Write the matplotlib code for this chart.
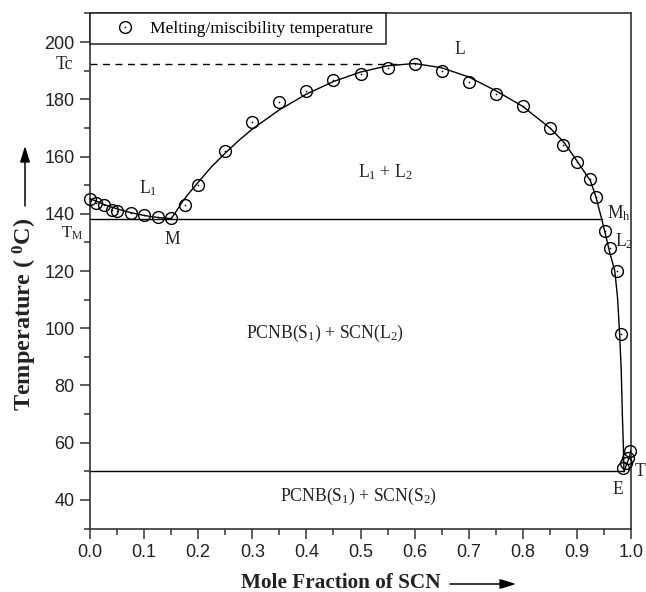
import matplotlib
matplotlib.use("Agg")
import matplotlib.pyplot as plt
from matplotlib.ticker import MultipleLocator

plt.rcParams['mathtext.default'] = 'regular'
SERIF = 'Liberation Serif'
SANS = 'Liberation Sans'

# measured melting / miscibility temperatures
x_pts = [0.0, 0.012, 0.025, 0.04, 0.05, 0.075, 0.1, 0.125, 0.15,
         0.175, 0.2, 0.25, 0.3, 0.35, 0.4, 0.45, 0.5, 0.55, 0.6,
         0.65, 0.7, 0.75, 0.8, 0.85, 0.875, 0.9, 0.925, 0.935,
         0.952, 0.961, 0.975, 0.981, 0.986, 0.991, 0.995, 0.999]
t_pts = [145.2, 143.6, 143.0, 141.4, 141.0, 140.4, 139.6, 138.8, 138.4,
         143.0, 150.0, 162.0, 172.0, 179.0, 183.0, 186.8, 189.0, 190.8, 192.2,
         190.0, 186.0, 182.0, 177.8, 169.8, 164.0, 158.0, 152.0, 146.0,
         134.0, 128.0, 120.0, 98.0, 51.0, 52.8, 54.5, 57.0]

# fitted liquidus / miscibility curve
x_left = [0.0, 0.025, 0.05, 0.075, 0.1, 0.125, 0.15]
t_left = [145.3, 143.3, 141.7, 140.4, 139.4, 138.7, 138.3]
x_dome = [0.15, 0.16, 0.17, 0.18, 0.2, 0.225, 0.25, 0.275, 0.3, 0.35, 0.4,
          0.45, 0.5, 0.55, 0.6, 0.65, 0.7, 0.75, 0.8, 0.85, 0.875, 0.9,
          0.925, 0.935, 0.946, 0.952, 0.96, 0.97, 0.975, 0.979, 0.982,
          0.984, 0.986, 0.987]
t_dome = [138.3, 141.0, 144.0, 146.5, 151.0, 156.5, 161.2, 165.6, 169.6,
          176.3, 181.8, 186.2, 189.5, 191.7, 192.5, 191.0, 187.8, 183.0,
          177.5, 170.0, 165.2, 158.5, 151.5, 146.0, 138.0, 133.5, 127.0,
          120.0, 111.0, 98.0, 85.0, 70.0, 58.0, 50.0]
x_et = [0.987, 0.992, 0.996, 1.0]
t_et = [50.0, 52.5, 54.5, 57.0]

T_c = 192.2
T_m = 138.0
T_e = 50.0
x_tc_end = 0.575
x_mh = 0.946
x_e = 0.987

fig = plt.figure(figsize=(6.46, 5.92), dpi=100)
ax = fig.add_axes([90/646, 1-528.6/592, 541/646, 515.2/592])

ax.plot(x_left, t_left, color='black', lw=1.0)
ax.plot(x_dome, t_dome, color='black', lw=1.0)
ax.plot(x_et, t_et, color='black', lw=1.0)
ax.plot([0, x_tc_end], [T_c, T_c], color='black', lw=1.0, ls=(0, (5, 4)))
ax.plot([0, x_mh], [T_m, T_m], color='black', lw=1.0)
ax.plot([0, x_e], [T_e, T_e], color='black', lw=1.0)

h1, = ax.plot(x_pts, t_pts, ls='none', marker='o', ms=8.5, mfc='none',
              mec='black', mew=1.0, clip_on=False, zorder=3)
h2, = ax.plot(x_pts, t_pts, ls='none', marker='o', ms=1.2, mfc='black',
              mec='black', mew=0, clip_on=False, zorder=3)

ax.set_xlim(0, 1.0)
ax.set_ylim(30, 210)
ax.xaxis.set_major_locator(MultipleLocator(0.1))
ax.xaxis.set_minor_locator(MultipleLocator(0.05))
ax.yaxis.set_major_locator(MultipleLocator(20))
ax.yaxis.set_minor_locator(MultipleLocator(10))
ax.set_yticks([40, 60, 80, 100, 120, 140, 160, 180, 200])
ax.tick_params(which='major', direction='out', length=7, width=1.1,
               color='#333333', labelsize=13, pad=4)
ax.tick_params(which='minor', direction='out', length=4, width=1.1,
               color='#333333')
ax.tick_params(top=False, right=False, which='both')
for lab in ax.get_xticklabels() + ax.get_yticklabels():
    lab.set_fontfamily(SANS)
    lab.set_color('#222222')
for s in ax.spines.values():
    s.set_linewidth(1.2)
    s.set_color('#333333')

leg = ax.legend([(h1, h2)], ['Melting/miscibility temperature'],
                loc='upper left', bbox_to_anchor=(0, 1, 296/541, 0),
                mode='expand', borderaxespad=0,
                frameon=True, fancybox=False, edgecolor='#222222',
                framealpha=1, borderpad=0.4, handlelength=3.2,
                handletextpad=-0.17, prop={'family': SERIF, 'size': 12.6})
leg.get_frame().set_linewidth(1.1)

tk = dict(family=SERIF, size=12.7, color='#222222')
ax.text(-0.032, T_c, 'Tc', ha='right', va='center', **tk)
ax.text(-0.012, 133.0, 'T$_{M}$', ha='right', va='center',
        family=SERIF, size=12, color='#222222')
ax.text(0.107, 149.0, 'L$_1$', ha='center', va='center', **tk)
ax.text(0.153, 131.0, 'M', ha='center', va='center', **tk)
ax.text(0.546, 154.7, 'L$_1$ + L$_2$', ha='center', va='center', **tk)
ax.text(0.683, 197.5, 'L', ha='center', va='center', **tk)
ax.text(0.955, 140.3, 'M$_h$', ha='left', va='center', **tk)
ax.text(0.971, 130.6, 'L$_2$', ha='left', va='center', **tk)
ax.text(0.975, 43.7, 'E', ha='center', va='center', **tk)
ax.text(1.006, 50.1, 'T', ha='left', va='center', clip_on=False, **tk)
ax.text(0.435, 98.3, 'PCNB(S$_1$) + SCN(L$_2$)', ha='center', va='center', **tk)
ax.text(0.497, 41.2, 'PCNB(S$_1$) + SCN(S$_2$)', ha='center', va='center', **tk)

fig.text(341/646, 1-583/592, 'Mole Fraction of SCN', ha='center', va='center',
         family=SERIF, size=15.3, weight='bold', color='#222222')
fig.text(25/646, 1-314.5/592, 'Temperature ( $^{0}$C)', ha='center', va='center',
         rotation=90, family=SERIF, size=17.5, weight='bold', color='#222222')
arrow = dict(arrowstyle='-|>,head_length=0.8,head_width=0.25', lw=1.1,
             color='black', mutation_scale=12, shrinkA=0, shrinkB=0)
fig.add_artist(matplotlib.patches.FancyArrowPatch(
    (450/646, 1-584/592), (516/646, 1-584/592), transform=fig.transFigure, **arrow))
fig.add_artist(matplotlib.patches.FancyArrowPatch(
    (25/646, 1-206/592), (25/646, 1-146/592), transform=fig.transFigure, **arrow))

fig.savefig('out.png', dpi=100)
